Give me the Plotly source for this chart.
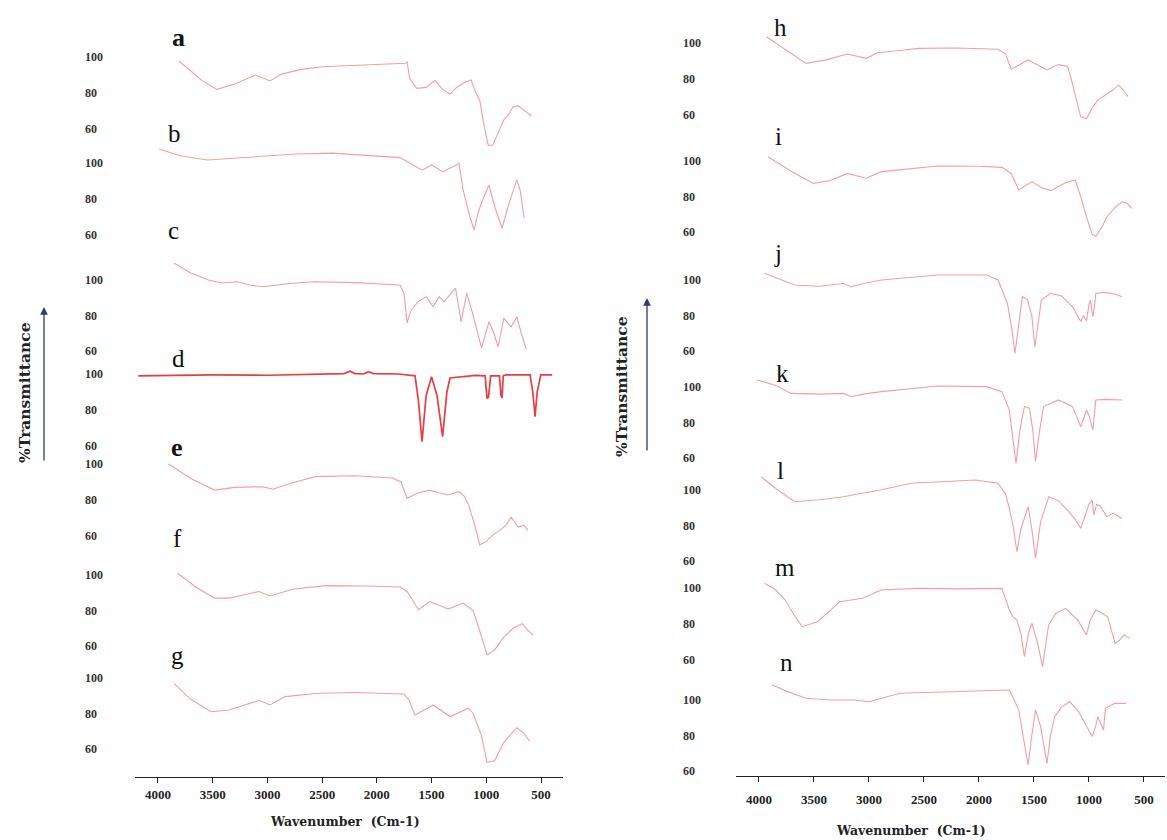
import plotly.graph_objects as go

# ---------------- data (wavenumber cm-1, %T) ----------------
wn_a = [3808, 3600, 3463, 3300, 3108, 2976, 2871, 2700, 2500, 2062, 1800, 1738, 1724, 1700, 1635, 1550, 1468, 1399, 1331, 1281, 1212, 1139, 1093, 1060, 1020, 983, 942, 892, 840, 800, 755, 705, 650, 586]
t_a = [97.8, 87, 82, 85, 90, 86.7, 90.5, 93, 94.6, 95.5, 96, 96.5, 97.4, 88, 82.6, 83.1, 86.9, 82, 79.4, 82.6, 85.4, 87.2, 79.8, 76, 62, 51, 51, 57.6, 65, 67.8, 72.4, 72.8, 70, 67.2]

wn_b = [3990, 3800, 3550, 3200, 2738, 2400, 2062, 1788, 1700, 1587, 1500, 1399, 1300, 1249, 1212, 1150, 1111, 1077, 1030, 975, 920, 856, 790, 721, 691, 654]
t_b = [107.8, 104, 101.7, 103, 105, 105.5, 103.9, 103, 100, 96, 98.9, 95.2, 98, 99.8, 85, 70, 62.8, 72, 80, 87.8, 75, 63.9, 78, 90.6, 85, 69.4]

wn_c = [3854, 3700, 3540, 3415, 3278, 3150, 3040, 2800, 2565, 2200, 1788, 1750, 1724, 1687, 1620, 1550, 1486, 1431, 1386, 1330, 1281, 1230, 1178, 1120, 1043, 975, 930, 892, 840, 773, 721, 680, 636]
t_c = [109.6, 104, 100, 98.3, 99, 97, 96.2, 98, 99, 98.5, 97.2, 92, 75.8, 83, 88, 90.6, 85, 90.6, 87.8, 92, 95.4, 76.5, 92.6, 80, 61.7, 76.5, 70, 62.4, 78.5, 73.6, 79.3, 70, 61.2]

wn_d = [4180, 3500, 3000, 2500, 2300, 2245, 2200, 2120, 2076, 2030, 1800, 1651, 1620, 1587, 1550, 1500, 1450, 1399, 1360, 1331, 1100, 1011, 1000, 993, 980, 960, 880, 865, 856, 845, 820, 600, 575, 554, 535, 502, 398]
t_d = [99, 99.5, 99.3, 99.8, 100.2, 101.5, 100.2, 100, 101.3, 100.2, 100, 99, 85, 62.4, 88, 98.5, 88, 65.2, 90, 97.8, 99.2, 99, 87, 86.7, 87, 99, 99, 88, 86.7, 99, 99.5, 99.5, 90, 76.3, 90, 99.5, 99.5]

wn_e = [3904, 3700, 3482, 3300, 3040, 2950, 2800, 2565, 2200, 1855, 1780, 1724, 1620, 1517, 1430, 1349, 1249, 1200, 1162, 1100, 1060, 1000, 942, 880, 820, 773, 705, 660, 618]
t_e = [100, 92, 85.5, 87, 87.4, 86, 89, 93, 93.5, 92.2, 90, 81, 84, 85.5, 84, 82.8, 84.6, 82, 77.3, 65, 55, 57, 60.5, 63, 66, 70.5, 65, 66, 63.3]

wn_f = [3819, 3650, 3481, 3345, 3200, 3077, 2976, 2770, 2464, 2100, 1788, 1724, 1619, 1517, 1430, 1349, 1212, 1148, 1120, 1043, 993, 925, 840, 755, 673, 620, 571]
t_f = [101, 93, 87, 87, 89, 90.7, 88.2, 92, 94, 93.8, 93.2, 90.7, 80.4, 85, 83, 80.8, 84.2, 81.4, 80, 65.2, 55, 57.7, 65, 70, 72.6, 69, 66]

wn_g = [3854, 3700, 3515, 3350, 3077, 2976, 2839, 2533, 2200, 1754, 1705, 1653, 1486, 1331, 1162, 1120, 1043, 993, 925, 840, 721, 660, 603]
t_g = [97, 88, 81, 82, 87.4, 84.8, 89.5, 91.4, 91.8, 91, 87.6, 79, 84.8, 78.3, 83, 80, 67.4, 52.5, 53.4, 63.7, 72, 69, 64.4]

wn_h = [3932, 3750, 3573, 3400, 3197, 3026, 2922, 2700, 2547, 2200, 1827, 1760, 1707, 1553, 1450, 1382, 1280, 1194, 1159, 1120, 1075, 1023, 970, 920, 850, 780, 731, 690, 645]
t_h = [103.5, 96, 88.7, 90.5, 93.9, 91.5, 94.6, 96, 97, 97.2, 96.5, 94, 85.4, 90.6, 87, 85, 88, 87, 79.4, 70, 59, 58, 64, 68.3, 71, 74, 76.7, 74, 70.2]

wn_i = [3918, 3700, 3506, 3350, 3196, 3026, 2888, 2600, 2375, 2000, 1792, 1707, 1639, 1519, 1430, 1349, 1212, 1125, 1075, 1020, 971, 938, 880, 837, 760, 700, 650, 611]
t_i = [102.4, 94, 87.4, 89, 93, 90.3, 94, 96, 97.2, 97, 96.4, 93, 83.7, 88.4, 85, 83.3, 87.8, 89.3, 80, 68, 58.6, 57.5, 63, 68.6, 74, 77, 76, 73.3]

wn_j = [3950, 3800, 3676, 3450, 3232, 3162, 3050, 2888, 2375, 1930, 1827, 1742, 1700, 1673, 1640, 1605, 1560, 1520, 1492, 1460, 1433, 1349, 1250, 1150, 1075, 1050, 1023, 1000, 988, 965, 950, 938, 850, 760, 700]
t_j = [103.8, 100, 97.2, 96.5, 98, 96.2, 98, 100, 102.8, 102.8, 100, 86.9, 72, 58.7, 75, 90.6, 89, 80, 62.4, 78, 88.7, 92.5, 91, 85, 76.6, 80, 77, 86, 88.7, 79.3, 85, 92.5, 93, 92, 90.6]

wn_k = [4018, 3850, 3710, 3450, 3232, 3162, 3050, 2888, 2375, 1930, 1792, 1724, 1690, 1663, 1630, 1587, 1540, 1510, 1486, 1450, 1413, 1280, 1150, 1075, 1050, 1023, 1000, 965, 950, 938, 850, 760, 700]
t_k = [104, 101, 96.4, 96, 96.4, 94.5, 96, 97.4, 100.6, 100.2, 97.4, 87, 70, 57, 75, 89, 88, 75, 58, 75, 89, 92.7, 89, 77.7, 82, 87, 84, 75.8, 85, 92.7, 93, 93, 92.7]

wn_l = [3982, 3850, 3676, 3450, 3232, 2900, 2614, 2035, 1827, 1760, 1724, 1690, 1655, 1620, 1553, 1520, 1486, 1440, 1365, 1280, 1200, 1120, 1075, 1040, 1000, 971, 956, 930, 900, 837, 780, 700]
t_l = [107.5, 101, 93.4, 94.5, 96.2, 100, 103.8, 105.6, 103.8, 98, 89.7, 80, 65.2, 78, 90.6, 78, 61.5, 82, 96.2, 94, 89, 83, 78.4, 85, 92, 94.4, 86, 92, 91, 85, 87, 84]

wn_m = [3950, 3850, 3762, 3680, 3607, 3540, 3470, 3380, 3265, 3060, 2888, 2547, 2200, 1792, 1724, 1690, 1655, 1620, 1587, 1550, 1519, 1470, 1422, 1390, 1367, 1300, 1212, 1100, 1023, 990, 938, 880, 830, 763, 720, 682, 629]
t_m = [102.6, 99, 93.3, 85, 78.5, 80, 81.3, 86, 92.4, 94.3, 98.9, 99.8, 99.5, 99.8, 87.8, 84, 82.2, 75, 61.9, 75, 80.4, 70, 56.3, 70, 79.4, 86, 88.7, 82, 73.9, 82, 87.8, 86, 84, 69.3, 71, 73.9, 72]

wn_n = [3880, 3750, 3573, 3350, 3132, 3000, 2720, 2400, 2000, 1724, 1680, 1639, 1600, 1553, 1520, 1486, 1440, 1382, 1350, 1312, 1250, 1175, 1100, 1038, 971, 940, 920, 868, 851, 800, 763, 663]
t_n = [108.5, 105, 101, 100, 100, 99, 103.8, 104.5, 105, 105.6, 100, 94.4, 80, 63.4, 80, 94.4, 85, 64.3, 80, 90.6, 96, 99, 94, 86.9, 79.4, 85, 90.6, 83.1, 95.3, 97, 98.1, 98.1]

labels = ["a", "b", "c", "d", "e", "f", "g", "h", "i", "j", "k", "l", "m", "n"]
wavenumbers = [wn_a, wn_b, wn_c, wn_d, wn_e, wn_f, wn_g, wn_h, wn_i, wn_j, wn_k, wn_l, wn_m, wn_n]
transmittance = [t_a, t_b, t_c, t_d, t_e, t_f, t_g, t_h, t_i, t_j, t_k, t_l, t_m, t_n]
x_ticks = [4000, 3500, 3000, 2500, 2000, 1500, 1000, 500]
y_ticks = [60, 80, 100]

# ---------------- layout geometry (pixels) ----------------
W, H = 1167, 840
# pixel rows of the 100 and 60 tick of each stacked spectrum
rows = {
    "a": (57, 129), "b": (163, 235), "c": (280, 351), "d": (374, 446),
    "e": (464, 536), "f": (575, 646), "g": (678, 749),
    "h": (43, 115), "i": (161, 232), "j": (280, 351), "k": (387, 458),
    "l": (490, 561), "m": (588, 660), "n": (700, 771),
}
label_pos = {
    "a": (178, 38), "b": (174, 133), "c": (173, 230), "d": (178, 358),
    "e": (177, 447), "f": (177, 538), "g": (177, 655),
    "h": (780, 28), "i": (778, 137), "j": (778, 253), "k": (782, 373),
    "l": (780, 470), "m": (785, 567), "n": (786, 662),
}
bold_labels = {"a", "e"}
Y_LO, Y_HI = 30, 115

def px(x):
    return x / W

def py(y):
    return 1 - y / H

serif = "Liberation Serif"
pink = "rgb(243,158,166)"
red = "rgb(234,60,66)"

fig = go.Figure()
layout = dict(
    width=W, height=H,
    margin=dict(l=0, r=0, t=0, b=0),
    paper_bgcolor="white", plot_bgcolor="rgba(0,0,0,0)",
    showlegend=False,
)

# x axes: left column (x / x3), right column (x2 / x4)
left_dom = [px(135), px(563)]
right_dom = [px(736), px(1165)]
left_rng = [4210, 299]
right_rng = [4209, 309]
xfont = dict(family=serif, size=13, color="#222", weight="bold")
layout["xaxis"] = dict(domain=left_dom, range=left_rng, anchor="free", position=py(777),
                       showline=True, linecolor="#222", linewidth=1.3, showgrid=False, zeroline=False,
                       ticks="outside", ticklen=5, tickcolor="#222", tickvals=x_ticks,
                       tickfont=xfont)
layout["xaxis3"] = dict(domain=left_dom, range=left_rng, anchor="free", position=py(777),
                        overlaying="x", showline=False, showgrid=False, zeroline=False,
                        ticks="inside", ticklen=9, tickcolor="#222", tickvals=x_ticks,
                        showticklabels=False)
layout["xaxis2"] = dict(domain=right_dom, range=right_rng, anchor="free", position=py(776),
                        showline=True, linecolor="#222", linewidth=1.3, showgrid=False, zeroline=False,
                        ticks="outside", ticklen=5, tickcolor="#222", tickvals=x_ticks,
                        tickfont=xfont, ticklabelstandoff=6)
layout["xaxis4"] = dict(domain=right_dom, range=right_rng, anchor="free", position=py(776),
                        overlaying="x2", showline=False, showgrid=False, zeroline=False,
                        ticks="inside", ticklen=9, tickcolor="#222", tickvals=x_ticks,
                        showticklabels=False)

annotations = []
for idx, lab in enumerate(labels):
    p100, p60 = rows[lab]
    k = (p60 - p100) / 40.0
    top = p100 - (Y_HI - 100) * k
    bot = p100 + (100 - Y_LO) * k
    ykey = "yaxis" if idx == 0 else f"yaxis{idx + 1}"
    yref = "y" if idx == 0 else f"y{idx + 1}"
    right = idx >= 7
    layout[ykey] = dict(
        domain=[py(bot), py(top)], range=[Y_LO, Y_HI], anchor="free",
        position=px(679 if right else 81),
        showline=False, showgrid=False, zeroline=False, ticks="",
        tickvals=y_ticks, ticklabelposition="inside",
        tickfont=dict(family=serif, size=12, color="#333", weight="bold"),
    )
    fig.add_trace(go.Scatter(
        x=wavenumbers[idx], y=transmittance[idx], mode="lines",
        xaxis="x2" if right else "x", yaxis=yref,
        line=dict(color=red if lab == "d" else pink, width=1.7 if lab == "d" else 1.1),
        hoverinfo="skip",
    ))
    lx, ly = label_pos[lab]
    annotations.append(dict(
        x=px(lx), y=py(ly), xref="paper", yref="paper", text=lab, showarrow=False,
        xanchor="center", yanchor="middle",
        font=dict(family=serif, size=26 if lab in bold_labels else 25, color="#111",
                  weight="bold" if lab in bold_labels else "normal"),
    ))

# axis titles
title_font = dict(family="DejaVu Serif", size=12.5, color="#222", weight="bold")
for tx, ty in [(345, 821), (911, 830)]:
    annotations.append(dict(x=px(tx), y=py(ty), xref="paper", yref="paper",
                            xanchor="center", yanchor="middle",
                            text="Wavenumber  (Cm-1)", showarrow=False, font=title_font))
ytitle_font = dict(family="DejaVu Serif", size=15.5, color="#222", weight="bold")
for tx, ty in [(24, 393), (622, 387)]:
    annotations.append(dict(x=px(tx), y=py(ty), xref="paper", yref="paper", textangle=-90,
                            xanchor="center", yanchor="middle",
                            text="%Transmittance", showarrow=False, font=ytitle_font))
# arrows
for ax_x, y_head, y_tail in [(44, 307, 462), (647, 298, 452)]:
    annotations.append(dict(x=px(ax_x), y=py(y_head), xref="paper", yref="paper",
                            ax=0, ay=y_tail - y_head, axref="pixel", ayref="pixel",
                            text="", showarrow=True, arrowhead=2, arrowsize=1.2,
                            arrowwidth=1.3, arrowcolor="#2a3f6e"))

layout["annotations"] = annotations
fig.update_layout(**layout)
fig.write_html("out.html", config={"displayModeBar": False},
               post_script="document.body.style.margin='0px';")
